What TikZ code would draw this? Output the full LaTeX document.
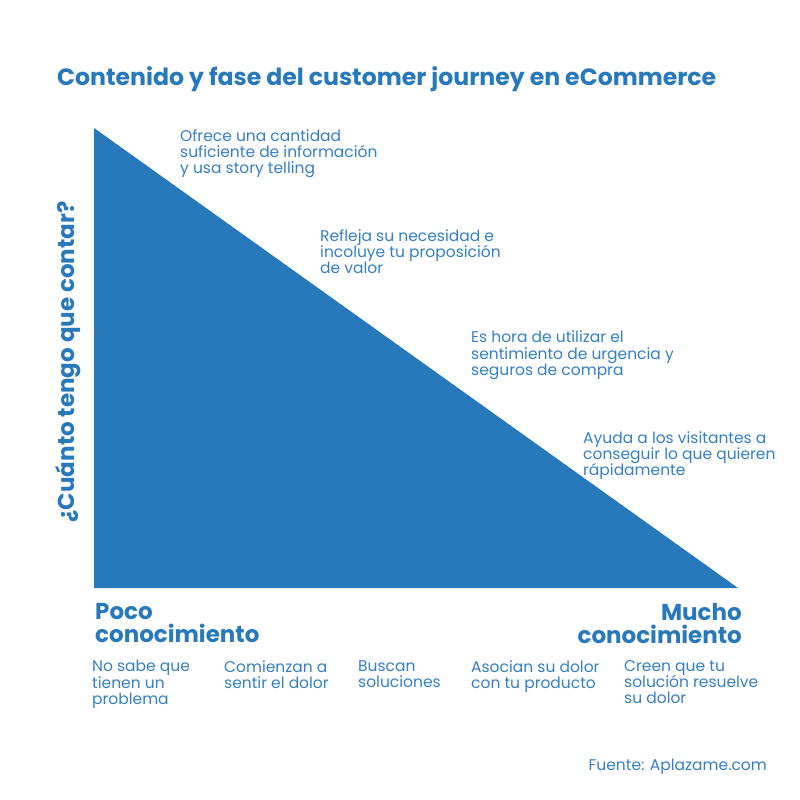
\documentclass[tikz,border=0pt]{standalone}
\usepackage{fontspec}
\setmainfont{Poppins}
\usepackage{xcolor}
\usepackage{tikz}
\usetikzlibrary{positioning}
\definecolor{jblue}{HTML}{2779BB}
\definecolor{tblue}{HTML}{3580C2}
\tikzset{
    heading/.style = {
        anchor     = west,
        text       = jblue,
        font       = \fontsize{23.6}{26}\selectfont\bfseries,
        inner sep  = 0pt,
    },
    note/.style = {
        anchor     = north west,
        align      = left,
        text       = tblue,
        font       = \fontsize{15.5}{16.4}\selectfont,
        inner sep  = 0pt,
    },
    axislabel/.style = {
        text       = jblue,
        font       = \fontsize{23}{23}\selectfont\bfseries,
        inner sep  = 0pt,
    },
}

\begin{document}
\begin{tikzpicture}[x=1pt, y=-1pt]
        \useasboundingbox [fill=white] (0,0) rectangle (800,800);

        \node (title) [heading] at (57,79) {Contenido y fase del customer journey en eCommerce};

        \coordinate (top) at (94,128);
        \coordinate (origin) at (94,588);
        \coordinate (tip) at (738,588);
        \fill [jblue] (top) -- (origin) -- (tip) -- cycle;

        \node (ask) [axislabel, rotate=90] at (68,362) {¿Cuánto tengo que contar?};

        \node (info) [note] at (180,129) {Ofrece una cantidad\\suficiente de información\\y usa story telling};
        \node (value) [note] at (320,229) {Refleja su necesidad e\\incoluye tu proposición\\de valor};
        \node (urgency) [note] at (471,331) {Es hora de utilizar el\\sentimiento de urgencia y\\seguros de compra};
        \node (fast) [note] at (583,431) {Ayuda a los visitantes a\\conseguir lo que quieren\\rápidamente};

        \node (low) [axislabel, anchor=north west, align=left] at (95,603) {Poco\\conocimiento};
        \node (high) [axislabel, anchor=north east, align=right] at (742,603) {Mucho\\conocimiento};

        \node (stageA) [note] at (92,660) {No sabe que\\tienen un\\problema};
        \node (stageB) [note] at (224,660) {Comienzan a\\sentir el dolor};
        \node (stageC) [note] at (358,660) {Buscan\\soluciones};
        \node (stageD) [note] at (471,660) {Asocian su dolor\\con tu producto};
        \node (stageE) [note] at (624,660) {Creen que tu\\solución resuelve\\su dolor};

        \node (source) [note, anchor=east] at (767,767) {Fuente: Aplazame.com};
    \end{tikzpicture}
\end{document}
